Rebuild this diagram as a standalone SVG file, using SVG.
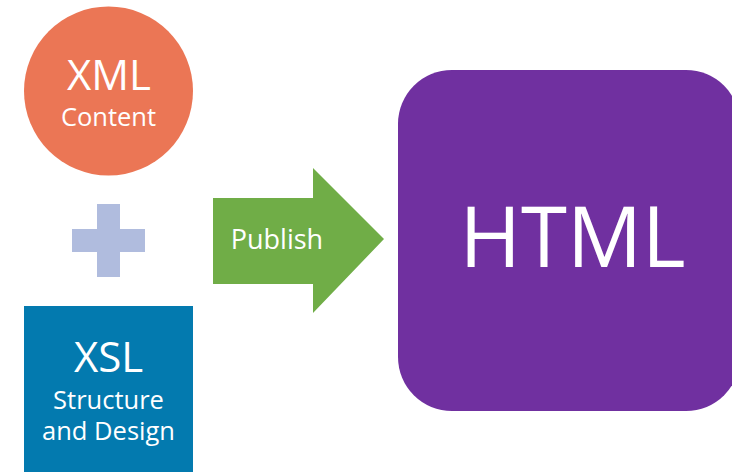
<svg xmlns="http://www.w3.org/2000/svg" width="732" height="472" viewBox="0 0 732 472">
<style>
text{font-family:"Open Sans","Noto Sans","Liberation Sans",sans-serif;fill:#fff;text-anchor:middle}
.big{font-size:42px}
.mid{font-size:25.5px}
</style>
<rect width="732" height="472" fill="#fff"/>
<g id="xml">
<circle cx="108.5" cy="91" r="84.5" fill="#EB7655"/>
<text class="big" x="109" y="90">XML</text>
<text class="mid" x="108.5" y="126">Content</text>
</g>
<g id="plus">
<path d="M97 204H120V229H145V252H120V277H97V252H72V229H97Z" fill="#B0BCDE"/>
</g>
<g id="xsl">
<rect x="24" y="306" width="169" height="170" fill="#037AAF"/>
<text class="big" x="108.5" y="372">XSL</text>
<text class="mid" x="108.5" y="409">Structure</text>
<text class="mid" x="108.5" y="440">and Design</text>
</g>
<g id="connectors">
<g id="publish">
<path d="M213 198H313V168L384 239L313 313V284H213Z" fill="#70AD47"/>
<text x="277" y="249" style="font-size:27px">Publish</text>
</g>
</g>
<g id="html">
<rect x="398" y="70" width="342" height="341" rx="54" fill="#7030A0"/>
<text x="572.5" y="267" style="font-size:83.5px">HTML</text>
</g>
</svg>
